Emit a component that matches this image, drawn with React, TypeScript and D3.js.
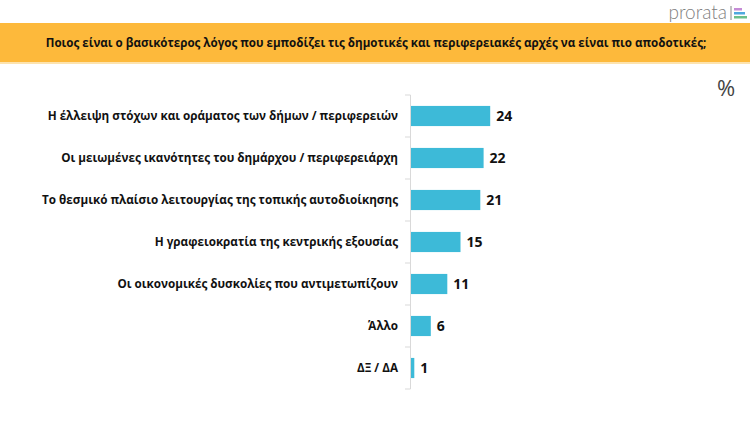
import React, { useRef, useEffect } from "react";
import * as d3 from "d3";

const categories = [
    "Η έλλειψη στόχων και οράματος των δήμων / περιφερειών",
    "Οι μειωμένες ικανότητες του δημάρχου / περιφερειάρχη",
    "Το θεσμικό πλαίσιο λειτουργίας της τοπικής αυτοδιοίκησης",
    "Η γραφειοκρατία της κεντρικής εξουσίας",
    "Οι οικονομικές δυσκολίες που αντιμετωπίζουν",
    "Άλλο",
    "ΔΞ / ΔΑ",
];
const values = [24, 22, 21, 15, 11, 6, 1];

const title =
    "Ποιος είναι ο βασικότερος λόγος που εμποδίζει τις δημοτικές και περιφερειακές αρχές να είναι πιο αποδοτικές;";

const FONT = "'Open Sans', 'DejaVu Sans', sans-serif";

export const App = () => {
    const svgRef = useRef<SVGSVGElement>(null);

    useEffect(() => {
        if (!svgRef.current) return;
        const svg = d3.select(svgRef.current);
        svg.selectAll("*").remove();

        const width = 750;
        const height = 421;

        svg.append("rect").attr("width", width).attr("height", height).attr("fill", "#fff");

        // header banner
        svg.append("rect")
            .attr("x", 0)
            .attr("y", 23)
            .attr("width", width)
            .attr("height", 39)
            .attr("fill", "#FDB93B");
        svg.append("rect")
            .attr("x", 0)
            .attr("y", 62)
            .attr("width", width)
            .attr("height", 2)
            .attr("fill", "#FDE3AE");
        svg.append("text")
            .attr("x", 376)
            .attr("y", 47)
            .attr("text-anchor", "middle")
            .attr("font-family", FONT)
            .attr("font-weight", 700)
            .attr("font-size", 11.6)
            .attr("fill", "#111")
            .text(title);

        // logo
        svg.append("text")
            .attr("x", 727)
            .attr("y", 19)
            .attr("text-anchor", "end")
            .attr("font-family", "'Lato', sans-serif")
            .attr("font-weight", 300)
            .attr("font-size", 19)
            .attr("fill", "#808080")
            .text("prorata");
        svg.append("line")
            .attr("x1", 731).attr("x2", 731)
            .attr("y1", 6).attr("y2", 20)
            .attr("stroke", "#888").attr("stroke-width", 1);
        const logoBars = [
            { c: "#C58BD6", w: 8 },
            { c: "#4FA9DF", w: 11 },
            { c: "#6CC08B", w: 13 },
        ];
        logoBars.forEach((b, i) => {
            svg.append("rect")
                .attr("x", 734)
                .attr("y", 8 + i * 4)
                .attr("width", b.w)
                .attr("height", 2.5)
                .attr("fill", b.c);
        });

        // percent symbol
        svg.append("text")
            .attr("x", 726)
            .attr("y", 96)
            .attr("text-anchor", "middle")
            .attr("font-family", FONT)
            .attr("font-size", 22)
            .attr("fill", "#444")
            .text("%");

        const x = d3.scaleLinear().domain([0, 30]).range([411, 510]);
        const y = d3
            .scaleBand()
            .domain(categories)
            .range([95, 389])
            .paddingInner(0.52)
            .paddingOuter(0.26);

        // axis line and ticks between categories
        const g = svg.append("g");
        g.append("line")
            .attr("x1", 410.5).attr("x2", 410.5)
            .attr("y1", 95).attr("y2", 389)
            .attr("stroke", "#D9D9D9");
        const step = y.step();
        d3.range(categories.length + 1).forEach((i) => {
            const ty = 95 + i * step;
            g.append("line")
                .attr("x1", 405).attr("x2", 410.5)
                .attr("y1", ty).attr("y2", ty)
                .attr("stroke", "#D9D9D9");
        });

        g.selectAll("rect.bar")
            .data(values)
            .enter()
            .append("rect")
            .attr("class", "bar")
            .attr("x", x(0))
            .attr("y", (d, i) => y(categories[i]) || 0)
            .attr("width", (d) => x(d) - x(0))
            .attr("height", y.bandwidth())
            .attr("fill", "#3DBAD8");

        g.selectAll("text.val")
            .data(values)
            .enter()
            .append("text")
            .attr("class", "val")
            .attr("x", (d) => x(d) + 6)
            .attr("y", (d, i) => (y(categories[i]) || 0) + y.bandwidth() / 2)
            .attr("dy", "0.36em")
            .attr("font-family", FONT)
            .attr("font-weight", 700)
            .attr("font-size", 14)
            .attr("fill", "#111")
            .text((d) => d);

        g.selectAll("text.cat")
            .data(categories)
            .enter()
            .append("text")
            .attr("class", "cat")
            .attr("x", 398)
            .attr("y", (d) => (y(d) || 0) + y.bandwidth() / 2)
            .attr("dy", "0.36em")
            .attr("text-anchor", "end")
            .attr("font-family", FONT)
            .attr("font-weight", 700)
            .attr("font-size", 11.7)
            .attr("fill", "#111")
            .text((d) => d);

        svg.attr("width", width).attr("height", height);
    }, []);

    return (
        <svg
            ref={svgRef}
            style={{ position: "absolute", left: 0, top: 0, display: "block" }}
        />
    );
};

export default App;
